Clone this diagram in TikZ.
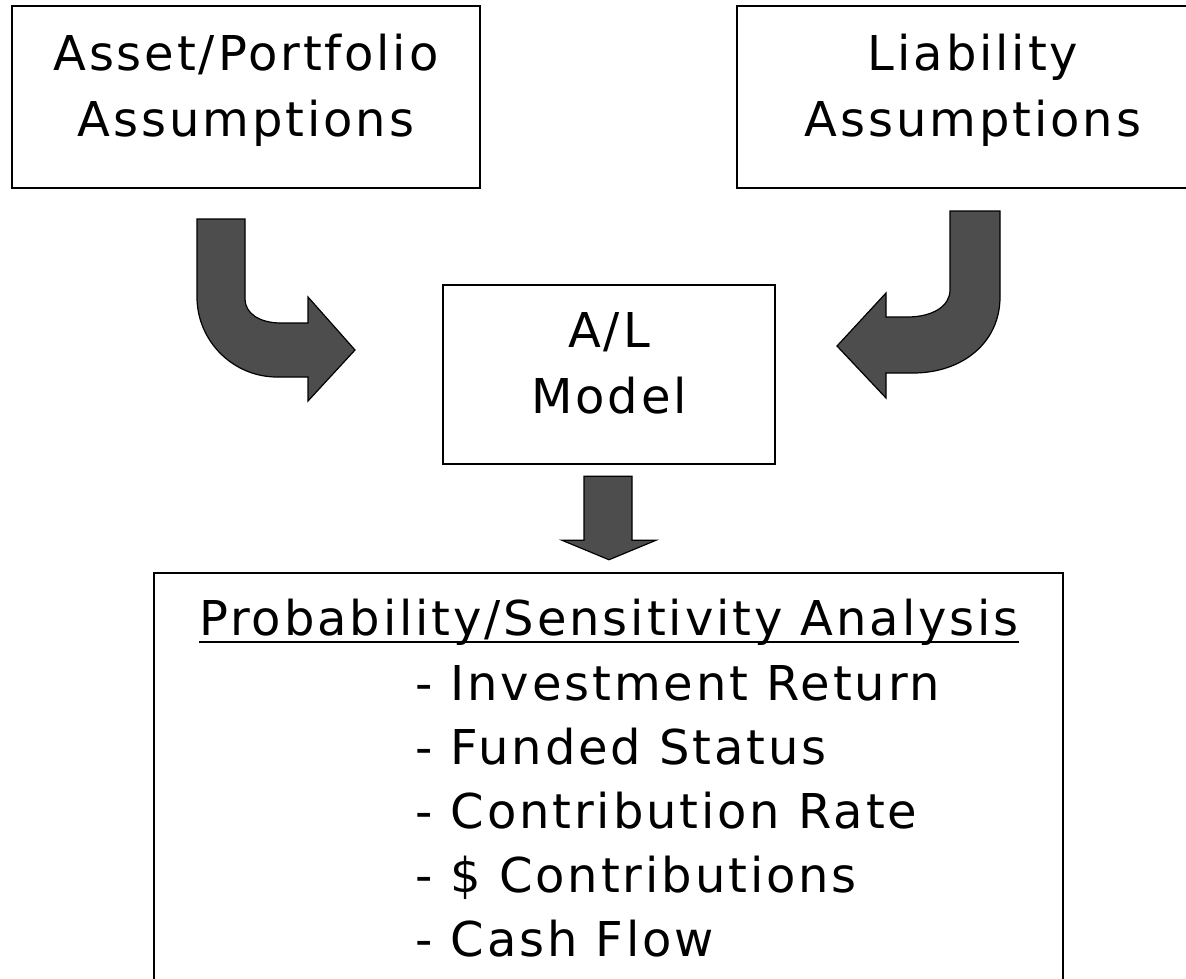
\documentclass[tikz,border=0pt]{standalone}
\usepackage{fontspec}
\setmainfont{DejaVu Sans}[LetterSpace=6]
\usepackage{tikz}
\usetikzlibrary{positioning,calc}
\definecolor{arrowgray}{HTML}{4D4D4D}

\begin{document}
\begin{tikzpicture}[
      x=1pt, y=-1pt,
      font=\fontsize{48}{66}\selectfont,
      box/.style={draw, line width=2.5pt, align=center, inner sep=0pt,
                  text depth=23pt},
      txt/.style={inner sep=0pt},
      fatarrow/.style={fill=arrowgray, draw=black, line width=1.2pt,
                       line join=miter}
    ]
    \useasboundingbox (0,0) rectangle (1186,978);

    % ---- inputs ----
    \node[box, minimum width=468pt, minimum height=182pt] (asset) at (246,97)
      {Asset/Portfolio\\ Assumptions};
    \node[box, minimum width=472pt, minimum height=182pt] (liab) at (973,97)
      {Liability\\ Assumptions};

    % ---- model ----
    \node[box, minimum width=332pt, minimum height=179pt] (model) at (609,374.5)
      {A/L\\ Model};

    % ---- results ----
    \node[box, minimum width=909pt, minimum height=440pt] (analysis) at (608.5,793) {};
    \node[txt, anchor=base] (title) at (609,635) {Probability/Sensitivity Analysis};
    \draw[line width=2.5pt] ($(title.base west)+(0,7)$) -- ($(title.base east)+(0,7)$);
    % base of a multi-line node is its last line
    \node[txt, anchor=base west, align=left, font=\fontsize{48}{64}\selectfont]
      (items) at (415,956)
      {- Investment Return\\ - Funded Status\\ - Contribution Rate\\
       - \$ Contributions\\ - Cash Flow};

    % ---- block arrows ----
    \draw[fatarrow] (197,219) -- (197,297) .. controls (197,341) and (233,377) .. (277,377)
      -- (308,377) -- (308,401) -- (355,350) -- (308,297) -- (308,323) -- (281,323)
      .. controls (259,323) and (245,313) .. (245,299) -- (245,219) -- cycle;
    \draw[fatarrow] (950,211) -- (950,290) .. controls (950,306) and (933,317) .. (907,317)
      -- (886,317) -- (886,293) -- (837,346) -- (886,398) -- (886,373) -- (913,373)
      .. controls (962,373) and (1000,343) .. (1000,297) -- (1000,211) -- cycle;
    \draw[fatarrow] ($(model.south)+(-25,11)$) -- ($(model.south)+(23,11)$)
      -- ($(model.south)+(23,75)$) -- ($(model.south)+(47,75)$)
      -- ($(analysis.north)+(0.5,-12)$) -- ($(model.south)+(-47,75)$)
      -- ($(model.south)+(-25,75)$) -- cycle;
  \end{tikzpicture}
\end{document}
